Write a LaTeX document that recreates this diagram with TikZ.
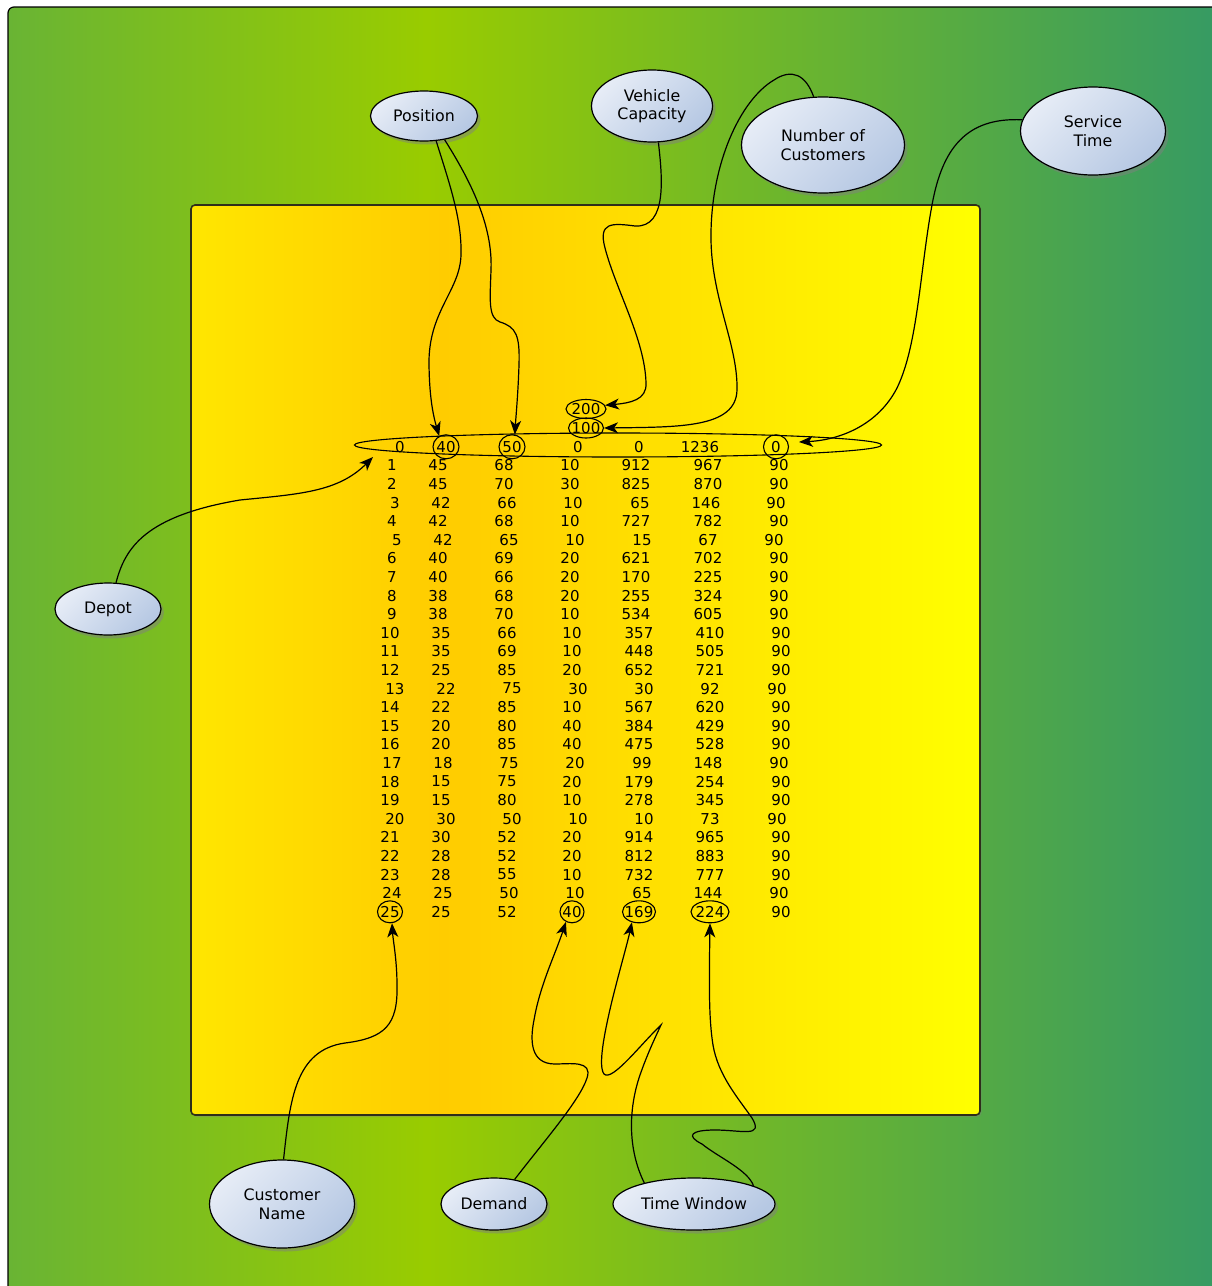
\documentclass[tikz,border=0pt]{standalone}
\usepackage{fontspec}
\setmainfont{DejaVu Sans}
\usetikzlibrary{shapes.geometric,shadows,arrows.meta}

% colours
\definecolor{fieldA}{HTML}{69B434}
\definecolor{fieldB}{HTML}{99CC00}
\definecolor{fieldC}{HTML}{339966}
\definecolor{panelA}{HTML}{FFE600}
\definecolor{panelB}{HTML}{FFCC00}
\definecolor{panelC}{HTML}{FFFF00}
\definecolor{panelEdge}{HTML}{2E2E1A}
\definecolor{bubLight}{HTML}{E6ECF6}
\definecolor{bubDark}{HTML}{B6C8E3}

% left-to-right colour ramps (the visible part is 25bp..75bp)
\pgfdeclarehorizontalshading{fieldshade}{100bp}{color(0bp)=(fieldA); color(25bp)=(fieldA); color(42bp)=(fieldB); color(75bp)=(fieldC); color(100bp)=(fieldC)}
\pgfdeclarehorizontalshading{panelshade}{100bp}{color(0bp)=(panelA); color(25bp)=(panelA); color(41bp)=(panelB); color(75bp)=(panelC); color(100bp)=(panelC)}

\newcommand\cellfont{\fontsize{15}{18}\selectfont}
\newcommand\labelfont{\fontsize{15.8}{18.5}\selectfont}

% column positions of the data lines
\newcommand\colsA[1]{\ifcase#1\or392\or438\or504\or570\or636\or708\or779\fi}
\newcommand\colsB[1]{\ifcase#1\or390\or441\or507\or572\or639\or710\or781\fi}
\newcommand\colsC[1]{\ifcase#1\or395\or446\or512\or578\or644\or710\or777\fi}
\newcommand\colsD[1]{\ifcase#1\or392\or443\or509\or575\or642\or708\or779\fi}
\newcommand\colsE[1]{\ifcase#1\or395\or441\or507\or573\or640\or706\or776\fi}
\newcommand\colsF[1]{\ifcase#1\or397\or443\or509\or575\or642\or708\or774\fi}
\newcommand\colsZ[1]{\ifcase#1\or400\or446\or512\or578\or639\or700\or776\fi}

% one line of the instance file: #1 line number, #2 column set, #3 values
\newcommand\datarow[3]{%
  \foreach \val [count=\k] in {#3}{%
    \edef\cx{#2{\k}}%
    \node[cell] (r#1c\k) at (\cx,{446.8+18.6*#1}) {\val};}}

\begin{document}
\begin{tikzpicture}[x=1pt,y=-1pt,
  cell/.style={inner sep=0pt, font=\cellfont},
  ring/.style={ellipse, draw=black, line width=1.1pt, inner sep=0pt},
  bubble/.style={ellipse, draw=black, line width=1.2pt,
    top color=bubLight, bottom color=bubDark, shading angle=45,
    drop shadow={shadow xshift=3pt, shadow yshift=-3.5pt, opacity=0.5},
    inner sep=0pt, align=center, font=\labelfont},
  conn/.style={draw=black, line width=1.2pt,
    -{Stealth[length=14pt,width=11pt,inset=4pt]}}]

\useasboundingbox (0,0) rectangle (1211,1286);
\fill[white] (0,0) rectangle (1211,1286);

% green field
\path[shade, shading=fieldshade, draw=black, line width=1.2pt, rounded corners=6pt]
  (8,7) rectangle (1240,1300);

% yellow panel
\path[shade, shading=panelshade, draw=panelEdge, line width=1.6pt, rounded corners=4pt,
  drop shadow={shadow xshift=1.5pt, shadow yshift=-2pt, opacity=0.35}]
  (191,205) rectangle (980,1115);

% header values
\node[cell] (cap200) at (586,409) {200};
\node[cell] (cap100) at (586,428) {100};

% depot and customers
\datarow{0}{\colsZ}{0,40,50,0,0,1236,0}
\datarow{1}{\colsA}{1,45,68,10,912,967,90}
\datarow{2}{\colsA}{2,45,70,30,825,870,90}
\datarow{3}{\colsE}{3,42,66,10,65,146,90}
\datarow{4}{\colsA}{4,42,68,10,727,782,90}
\datarow{5}{\colsF}{5,42,65,10,15,67,90}
\datarow{6}{\colsA}{6,40,69,20,621,702,90}
\datarow{7}{\colsA}{7,40,66,20,170,225,90}
\datarow{8}{\colsA}{8,38,68,20,255,324,90}
\datarow{9}{\colsA}{9,38,70,10,534,605,90}
\datarow{10}{\colsB}{10,35,66,10,357,410,90}
\datarow{11}{\colsB}{11,35,69,10,448,505,90}
\datarow{12}{\colsB}{12,25,85,20,652,721,90}
\datarow{13}{\colsC}{13,22,75,30,30,92,90}
\datarow{14}{\colsB}{14,22,85,10,567,620,90}
\datarow{15}{\colsB}{15,20,80,40,384,429,90}
\datarow{16}{\colsB}{16,20,85,40,475,528,90}
\datarow{17}{\colsD}{17,18,75,20,99,148,90}
\datarow{18}{\colsB}{18,15,75,20,179,254,90}
\datarow{19}{\colsB}{19,15,80,10,278,345,90}
\datarow{20}{\colsC}{20,30,50,10,10,73,90}
\datarow{21}{\colsB}{21,30,52,20,914,965,90}
\datarow{22}{\colsB}{22,28,52,20,812,883,90}
\datarow{23}{\colsB}{23,28,55,10,732,777,90}
\datarow{24}{\colsD}{24,25,50,10,65,144,90}
\datarow{25}{\colsB}{25,25,52,40,169,224,90}

% marked entries
\node[ring, minimum width=40, minimum height=19] (ring200) at (cap200) {};
\node[ring, minimum width=35, minimum height=20] (ring100) at (cap100) {};
\node[ring, minimum width=527, minimum height=24] (depotrow) at (618,445) {};
\node[ring, minimum width=26, minimum height=24] (ring40) at (r0c2) {};
\node[ring, minimum width=26, minimum height=24] (ring50) at (r0c3) {};
\node[ring, minimum width=25, minimum height=24] (ringST) at (r0c7) {};
\node[ring, minimum width=25, minimum height=22] (ring25) at (r25c1) {};
\node[ring, minimum width=24, minimum height=22] (ringD) at (r25c4) {};
\node[ring, minimum width=33, minimum height=22] (ring169) at (r25c5) {};
\node[ring, minimum width=38, minimum height=22] (ring224) at (r25c6) {};

% labels
\node[bubble, minimum width=107, minimum height=50] (pos) at (424,116) {Position};
\node[bubble, minimum width=121, minimum height=72] (vc) at (652,106) {Vehicle\\Capacity};
\node[bubble, minimum width=163, minimum height=96] (noc) at (823,145) {Number of\\Customers};
\node[bubble, minimum width=145, minimum height=88] (st) at (1093,131) {Service\\Time};
\node[bubble, minimum width=106, minimum height=52] (depot) at (108,609) {Depot};
\node[bubble, minimum width=145, minimum height=88] (cn) at (282,1204) {Customer\\Name};
\node[bubble, minimum width=106, minimum height=52] (dem) at (494,1204) {Demand};
\node[bubble, minimum width=162, minimum height=52] (tw) at (694,1204) {Time Window};

\coordinate (stTip) at (799,442);
\coordinate (depotTip) at (373,457);

% connectors
\draw[conn] (pos.-64) .. controls (450,185) and (462,220) .. (461,255)
  .. controls (460,290) and (430,310) .. (429,360)
  .. controls (429,395) and (433,415) .. (ring40.122);
\draw[conn] (pos.-49) .. controls (470,180) and (493,225) .. (491,270)
  .. controls (490,300) and (488,318) .. (500,322)
  .. controls (516,327) and (520,335) .. (519,365)
  .. controls (518,395) and (516,415) .. (ring50.77);
\draw[conn] (vc.-80) .. controls (662,175) and (668,228) .. (635,226)
  .. controls (612,223) and (598,222) .. (605,248)
  .. controls (616,290) and (645,340) .. (646,383)
  .. controls (647,400) and (630,403) .. (ring200.11);
\draw[conn] (noc.101) .. controls (806,75) and (792,68) .. (774,80)
  .. controls (740,100) and (710,165) .. (711,240)
  .. controls (712,300) and (738,345) .. (737,390)
  .. controls (736,428) and (680,427) .. (ring100.east);
\draw[conn] (st.171) .. controls (965,117) and (942,150) .. (932,205)
  .. controls (920,270) and (918,345) .. (897,388)
  .. controls (878,425) and (840,440) .. (stTip);
\draw[conn] (depot.73) .. controls (125,548) and (145,516) .. (240,500)
  .. controls (300,494) and (338,492) .. (depotTip);
\draw[conn] (cn.88) .. controls (290,1100) and (295,1050) .. (345,1043)
  .. controls (385,1038) and (398,1025) .. (397,985)
  .. controls (397,960) and (393,940) .. (ring25.-80);
\draw[conn] (dem.50) .. controls (545,1140) and (580,1100) .. (587,1078)
  .. controls (593,1060) and (570,1064) .. (555,1064)
  .. controls (530,1064) and (530,1040) .. (534,1020)
  .. controls (540,985) and (555,955) .. (ringD.-121);
\draw[conn] (tw.157) .. controls (628,1150) and (628,1110) .. (640,1075)
  .. controls (647,1055) and (654,1040) .. (661,1025)
  .. controls (640,1045) and (612,1082) .. (604,1074)
  .. controls (598,1066) and (604,1035) .. (611,1005)
  .. controls (619,972) and (627,945) .. (ring169.-124);
\draw[conn] (tw.17) .. controls (748,1170) and (718,1157) .. (702,1144)
  .. controls (686,1136) and (690,1130) .. (715,1130)
  .. controls (742,1130) and (764,1138) .. (752,1118)
  .. controls (738,1098) and (718,1075) .. (713,1045)
  .. controls (709,1020) and (709,990) .. (ring224.south);
\end{tikzpicture}
\end{document}
